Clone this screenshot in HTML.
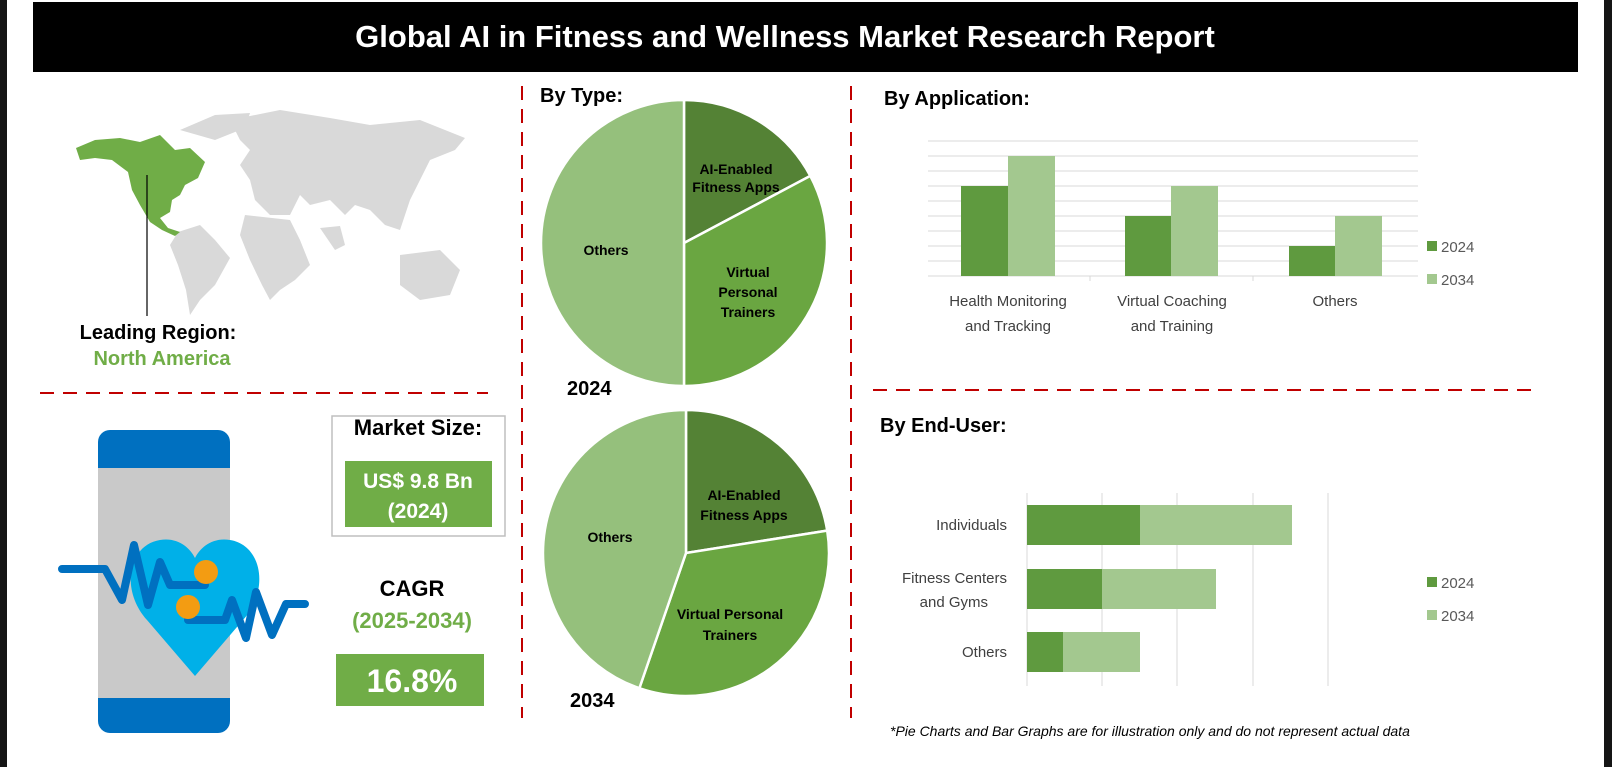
<!DOCTYPE html>
<html><head><meta charset="utf-8"><style>
html,body{margin:0;padding:0;background:#fff}
body{width:1612px;height:767px;overflow:hidden;position:relative;font-family:"Liberation Sans",sans-serif}
</style></head><body>
<svg width="1612" height="767" viewBox="0 0 1612 767" xmlns="http://www.w3.org/2000/svg" font-family="Liberation Sans, sans-serif">
<rect x="0" y="0" width="1612" height="767" fill="#fff"/>
<rect x="0" y="0" width="7" height="767" fill="#151515"/>
<rect x="1604" y="0" width="8" height="767" fill="#151515"/>
<rect x="33" y="2" width="1545" height="70" fill="#000"/>
<text x="785" y="47" font-size="31" font-weight="bold" fill="#fff" text-anchor="middle">Global AI in Fitness and Wellness Market Research Report</text>

<!-- dashed dividers -->
<g stroke="#c00000" stroke-width="2" stroke-dasharray="14,9">
<line x1="522" y1="86" x2="522" y2="718"/>
<line x1="851" y1="86" x2="851" y2="718"/>
<line x1="40" y1="393" x2="488" y2="393"/>
<line x1="873" y1="390" x2="1540" y2="390"/>
</g>

<!-- map -->
<g fill="#d9d9d9">
<path d="M180,130 L215,115 L250,113 L245,128 L215,140 Z"/>
<path d="M230,120 L280,110 L330,118 L370,125 L420,120 L465,138 L455,150 L430,160 L420,180 L410,200 L400,230 L385,225 L370,210 L355,205 L345,215 L330,200 L310,205 L300,195 L290,215 L270,215 L255,200 L250,180 L240,165 L250,150 L240,140 Z"/>
<path d="M245,215 L290,220 L300,240 L310,265 L295,280 L280,290 L270,300 L262,285 L250,260 L240,235 Z"/>
<path d="M178,232 L200,225 L215,240 L230,258 L215,285 L200,300 L190,315 L186,290 L178,265 L170,245 Z"/>
<path d="M400,255 L440,250 L460,270 L450,295 L420,300 L400,285 Z"/>
<path d="M320,228 L340,226 L345,245 L335,250 Z"/>
</g>
<path fill="#70ad47" d="M76,148 L95,140 L120,138 L140,142 L160,135 L175,150 L190,148 L205,162 L198,178 L185,185 L180,195 L172,200 L170,212 L160,218 L168,228 L180,232 L175,236 L162,230 L150,222 L140,205 L132,190 L128,172 L112,160 L95,158 L80,160 Z"/>
<line x1="147" y1="175" x2="147" y2="316" stroke="#000" stroke-width="1.2"/>
<text x="158" y="339" font-size="20" font-weight="bold" fill="#000" text-anchor="middle">Leading Region:</text>
<text x="162" y="365" font-size="20" font-weight="bold" fill="#70ad47" text-anchor="middle">North America</text>

<!-- phone -->
<rect x="98" y="430" width="132" height="303" rx="12" fill="#0070c0"/>
<rect x="98" y="468" width="132" height="230" fill="#c9c9c9"/>
<path d="M195,676 L147,620 C120,590 128,545 160,540 C178,537 190,548 195,558 C200,548 212,537 230,540 C262,545 270,590 243,620 Z" fill="#00b0e8"/>
<polyline points="62,569 105,569 122,600 134,545 148,605 160,562 170,585 205,585" fill="none" stroke="#0070c0" stroke-width="8" stroke-linejoin="round" stroke-linecap="round"/>
<polyline points="188,620 225,620 232,600 246,638 256,592 272,635 286,604 305,604" fill="none" stroke="#0070c0" stroke-width="8" stroke-linejoin="round" stroke-linecap="round"/>
<circle cx="206" cy="572" r="12" fill="#f39c12"/>
<circle cx="188" cy="607" r="12" fill="#f39c12"/>

<!-- market size -->
<rect x="332" y="416" width="173" height="120" fill="#fff" stroke="#bfbfbf" stroke-width="1.5"/>
<text x="418" y="435" font-size="22" font-weight="bold" fill="#000" text-anchor="middle">Market Size:</text>
<rect x="345" y="461" width="147" height="66" fill="#70ad47"/>
<text x="418" y="488" font-size="21" font-weight="bold" fill="#fff" text-anchor="middle">US$ 9.8 Bn</text>
<text x="418" y="518" font-size="21" font-weight="bold" fill="#fff" text-anchor="middle">(2024)</text>
<text x="412" y="596" font-size="22" font-weight="bold" fill="#000" text-anchor="middle">CAGR</text>
<text x="412" y="628" font-size="22" font-weight="bold" fill="#70ad47" text-anchor="middle">(2025-2034)</text>
<rect x="336" y="654" width="148" height="52" fill="#70ad47"/>
<text x="412" y="692" font-size="32" font-weight="bold" fill="#fff" text-anchor="middle">16.8%</text>

<!-- pies -->
<text x="540" y="102" font-size="20" font-weight="bold" fill="#000">By Type:</text>
<g stroke="#fff" stroke-width="2.5">
<path d="M684,243 L684,100 A143,143 0 0 1 810.3,175.9 Z" fill="#548235"/>
<path d="M684,243 L810.3,175.9 A143,143 0 0 1 684,386 Z" fill="#6aa641"/>
<path d="M684,243 L684,386 A143,143 0 0 1 684,100 Z" fill="#95c07c"/>
<path d="M686,553 L686,410 A143,143 0 0 1 827.2,530.6 Z" fill="#548235"/>
<path d="M686,553 L827.2,530.6 A143,143 0 0 1 639.4,688.2 Z" fill="#6aa641"/>
<path d="M686,553 L639.4,688.2 A143,143 0 0 1 686,410 Z" fill="#95c07c"/>
</g>
<g font-size="14" fill="#000" text-anchor="middle" font-weight="bold">
<text x="736" y="174">AI-Enabled</text><text x="736" y="192">Fitness Apps</text>
<text x="606" y="255">Others</text>
<text x="748" y="277">Virtual</text><text x="748" y="297">Personal</text><text x="748" y="317">Trainers</text>
<text x="744" y="500">AI-Enabled</text><text x="744" y="520">Fitness Apps</text>
<text x="610" y="542">Others</text>
<text x="730" y="619">Virtual Personal</text><text x="730" y="640">Trainers</text>
</g>
<text x="567" y="395" font-size="20" font-weight="bold" fill="#000">2024</text>
<text x="570" y="707" font-size="20" font-weight="bold" fill="#000">2034</text>

<!-- application bar -->
<text x="884" y="105" font-size="20" font-weight="bold" fill="#000">By Application:</text>
<g stroke="#d9d9d9" stroke-width="1">
<line x1="928" y1="141" x2="1418" y2="141"/><line x1="928" y1="156" x2="1418" y2="156"/>
<line x1="928" y1="171" x2="1418" y2="171"/><line x1="928" y1="186" x2="1418" y2="186"/>
<line x1="928" y1="201" x2="1418" y2="201"/><line x1="928" y1="216" x2="1418" y2="216"/>
<line x1="928" y1="231" x2="1418" y2="231"/><line x1="928" y1="246" x2="1418" y2="246"/>
<line x1="928" y1="261" x2="1418" y2="261"/><line x1="928" y1="276" x2="1418" y2="276"/>
<line x1="1090" y1="276" x2="1090" y2="281"/><line x1="1253" y1="276" x2="1253" y2="281"/>
</g>
<rect x="961" y="186" width="47" height="90" fill="#5f9a3f"/>
<rect x="1008" y="156" width="47" height="120" fill="#a3c88f"/>
<rect x="1125" y="216" width="46" height="60" fill="#5f9a3f"/>
<rect x="1171" y="186" width="47" height="90" fill="#a3c88f"/>
<rect x="1289" y="246" width="46" height="30" fill="#5f9a3f"/>
<rect x="1335" y="216" width="47" height="60" fill="#a3c88f"/>
<g font-size="15" fill="#404040" text-anchor="middle">
<text x="1008" y="306">Health Monitoring</text><text x="1008" y="331">and Tracking</text>
<text x="1172" y="306">Virtual Coaching</text><text x="1172" y="331">and Training</text>
<text x="1335" y="306">Others</text>
</g>
<rect x="1427" y="241" width="10" height="10" fill="#5f9a3f"/>
<text x="1441" y="252" font-size="15" fill="#595959">2024</text>
<rect x="1427" y="274" width="10" height="10" fill="#a3c88f"/>
<text x="1441" y="285" font-size="15" fill="#595959">2034</text>

<!-- end-user -->
<text x="880" y="432" font-size="20" font-weight="bold" fill="#000">By End-User:</text>
<g stroke="#d9d9d9" stroke-width="1">
<line x1="1027" y1="493" x2="1027" y2="686"/><line x1="1102" y1="493" x2="1102" y2="686"/>
<line x1="1177" y1="493" x2="1177" y2="686"/><line x1="1253" y1="493" x2="1253" y2="686"/>
<line x1="1328" y1="493" x2="1328" y2="686"/>
</g>
<rect x="1027" y="505" width="113" height="40" fill="#5f9a3f"/>
<rect x="1140" y="505" width="152" height="40" fill="#a3c88f"/>
<rect x="1027" y="569" width="75" height="40" fill="#5f9a3f"/>
<rect x="1102" y="569" width="114" height="40" fill="#a3c88f"/>
<rect x="1027" y="632" width="36" height="40" fill="#5f9a3f"/>
<rect x="1063" y="632" width="77" height="40" fill="#a3c88f"/>
<g font-size="15" fill="#404040" text-anchor="end">
<text x="1007" y="530">Individuals</text>
<text x="1007" y="583">Fitness Centers</text><text x="988" y="607">and Gyms</text>
<text x="1007" y="657">Others</text>
</g>
<rect x="1427" y="577" width="10" height="10" fill="#5f9a3f"/>
<text x="1441" y="588" font-size="15" fill="#595959">2024</text>
<rect x="1427" y="610" width="10" height="10" fill="#a3c88f"/>
<text x="1441" y="621" font-size="15" fill="#595959">2034</text>

<text x="890" y="736" font-size="14" font-style="italic" fill="#000">*Pie Charts and Bar Graphs are for illustration only and do not represent actual data</text>
</svg>
</body></html>
